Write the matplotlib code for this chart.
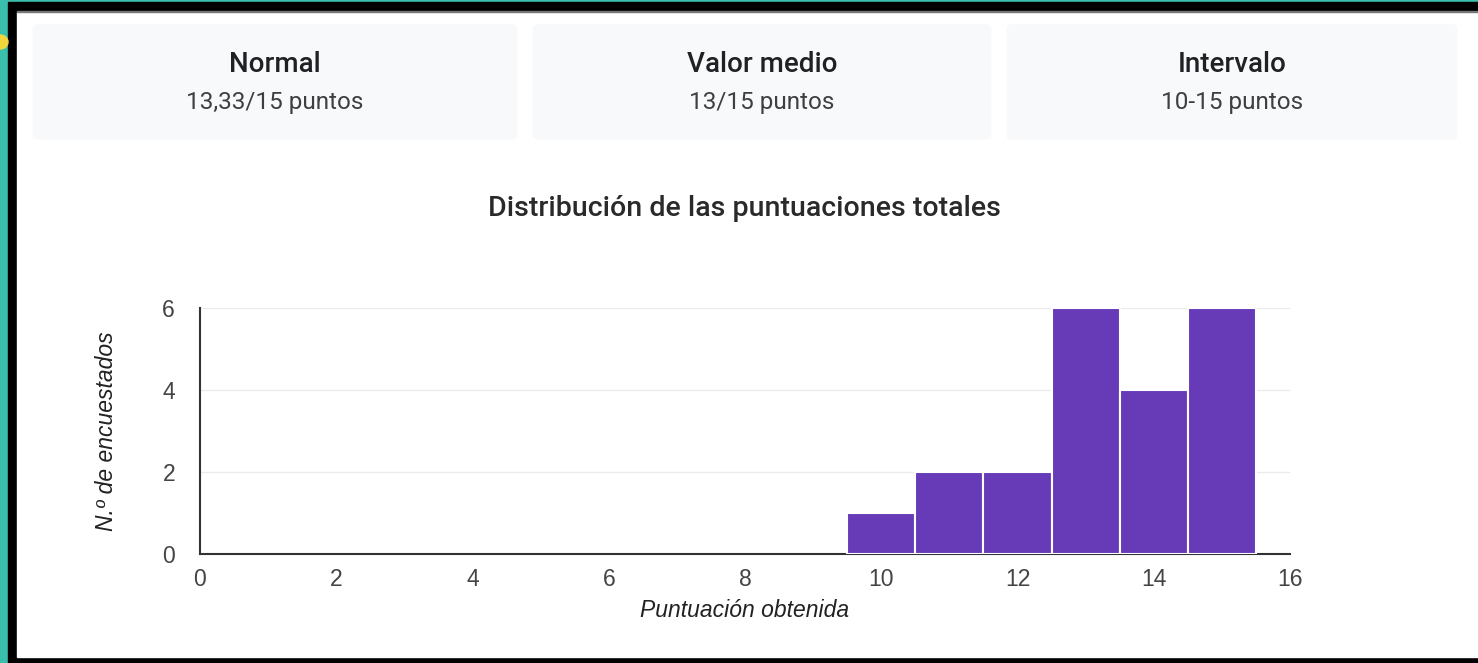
import matplotlib.pyplot as plt
from matplotlib.patches import Rectangle, FancyBboxPatch, Ellipse

W, H = 1478, 663

# data
scores = [10, 11, 12, 13, 14, 15]
counts = [1, 2, 2, 6, 4, 6]
card_titles = ["Normal", "Valor medio", "Intervalo"]
card_values = ["13,33/15 puntos", "13/15 puntos", "10-15 puntos"]
x_ticks = [0, 2, 4, 6, 8, 10, 12, 14, 16]
y_ticks = [0, 2, 4, 6]

purple = "#673ab7"


def fx(px):
    return px / W


def fy(py):
    return 1 - py / H


fig = plt.figure(figsize=(W / 100, H / 100), dpi=100)
fig.patch.set_facecolor("#3bbfad")

# frame: black border, white page
fig.patches.append(Rectangle((fx(8), fy(663)), fx(1478 - 8), 661 / H,
                             transform=fig.transFigure, color="black", zorder=0))
fig.patches.append(Rectangle((fx(17), fy(657)), fx(1478 - 17), 645 / H,
                             transform=fig.transFigure, color="white", zorder=1))
fig.patches.append(Rectangle((fx(17), fy(12)), fx(1478 - 17), 1.5 / H,
                             transform=fig.transFigure, color="#777777", zorder=2))
fig.patches.append(Ellipse((fx(0), fy(42)), 16 / W, 14 / H,
                           transform=fig.transFigure, color="#f2d43d", zorder=1))

# summary cards
cards = [(33, 517), (533, 991), (1007, 1457)]
for (x0, x1), t, v in zip(cards, card_titles, card_values):
    fig.patches.append(FancyBboxPatch((fx(x0 + 4), fy(142 - 4)), fx(x1 - x0 - 8), 112 / H,
                                      boxstyle="round,pad=0.003,rounding_size=0.006",
                                      transform=fig.transFigure, facecolor="#f8f9fa",
                                      edgecolor="none", zorder=2))
    cx = fx((x0 + x1) / 2)
    fig.text(cx, fy(64), t, ha="center", va="center", fontsize=20,
             family="Roboto", weight="medium", color="#202124", zorder=3)
    fig.text(cx, fy(102), v, ha="center", va="center", fontsize=17.5,
             family="Roboto", color="#3c4043", zorder=3)

fig.text(fx(744), fy(209), "Distribución de las puntuaciones totales", ha="center",
         va="center", fontsize=20.5, family="Roboto", weight="medium", color="#2a2a2a")

ax = fig.add_axes([fx(200), fy(554), fx(1290 - 200), (554 - 308) / H])
ax.set_zorder(5)
ax.bar(scores, counts, width=1, color=purple, edgecolor="white", linewidth=1.5, zorder=3)
ax.set_xlim(0, 16)
ax.set_ylim(0, 6)
ax.set_xticks(x_ticks)
ax.set_yticks(y_ticks)
ax.tick_params(length=0, labelsize=16.5, labelcolor="#444444")
ax.tick_params(axis="x", pad=10)
ax.tick_params(axis="y", pad=18)
for lab in ax.get_xticklabels() + ax.get_yticklabels():
    lab.set_family("Liberation Sans")
ax.grid(axis="y", color="#ebebeb", linewidth=1, zorder=0)
for s in ["top", "right"]:
    ax.spines[s].set_visible(False)
for s in ["left", "bottom"]:
    ax.spines[s].set_color("#333333")
    ax.spines[s].set_linewidth(1.5)
ax.set_xlabel("Puntuación obtenida", fontsize=16.5, style="italic",
              family="Liberation Sans", color="#222222", labelpad=6)
ax.set_ylabel("N.º de encuestados", fontsize=16.5, style="italic",
              family="Liberation Sans", color="#222222", labelpad=32)

fig.savefig("out.png", dpi=100)
